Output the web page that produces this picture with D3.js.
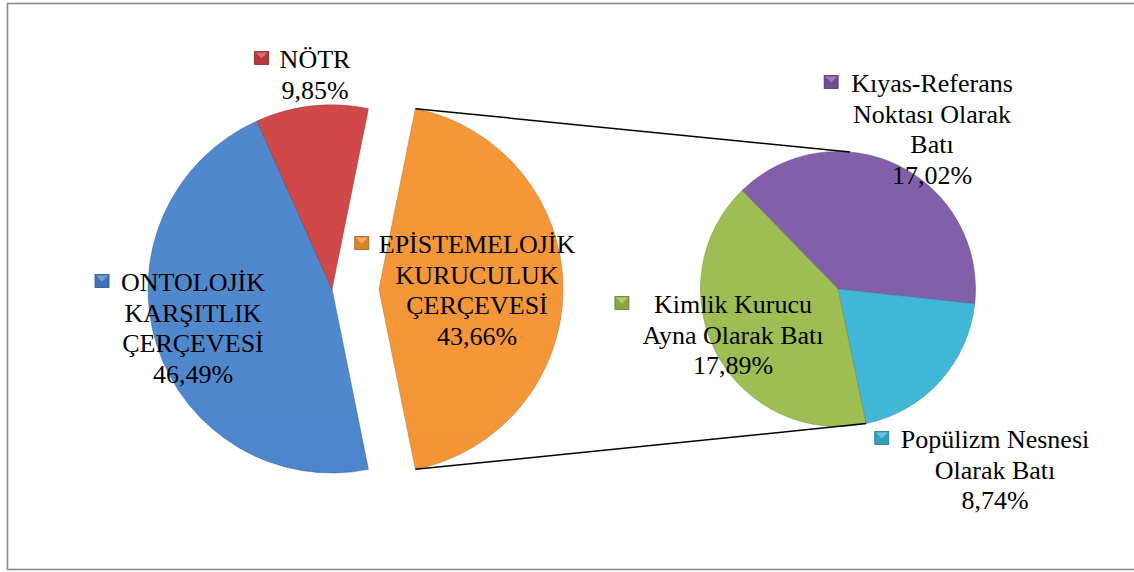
<!DOCTYPE html>
<html>
<head>
<meta charset="utf-8">
<script src="https://cdn.jsdelivr.net/npm/d3@7"></script>
<style>
    body { margin: 0; background: #fff; }
    svg text { font-family: "Liberation Serif", "DejaVu Serif", serif; font-size: 26px; fill: #000; }
</style>
</head>
<body>
<svg id="chart" width="1134" height="572"></svg>
<script>
// main pie: the "other" slice (EPİSTEMELOJİK) is split into the second pie
const mainNames = ["EPİSTEMELOJİK", "ONTOLOJİK", "NÖTR"];
const mainLines = [["EPİSTEMELOJİK", "KURUCULUK", "ÇERÇEVESİ"], ["ONTOLOJİK", "KARŞITLIK", "ÇERÇEVESİ"], ["NÖTR"]];
const mainValues = [43.66, 46.49, 9.85];
const mainColors = ["#f4902c", "#4580ca", "#cd3c3c"];

const subNames = ["Kıyas", "Popülizm", "Kimlik"];
const subLines = [["Kıyas-Referans", "Noktası Olarak", "Batı"], ["Popülizm Nesnesi", "Olarak Batı"], ["Kimlik Kurucu", "Ayna Olarak Batı"]];
const subValues = [17.02, 8.74, 17.89];
const subColors = ["#7a56a4", "#35b2d5", "#98b947"];

// label layout (centre x, first baseline, gap marker->text)
const mainLabelPos = [[477, 253, 10], [193, 291, 12], [315, 68, 11]];
const subLabelPos = [[932, 92, 13], [995, 448, 12], [733, 313, 25]];

const width = 1134, height = 572;
const svg = d3.select("#chart");
const defs = svg.append("defs");
const rad = Math.PI / 180;

const main = {cx: 332, cy: 289, r: 184, explode: 47};
const sub = {cx: 838, cy: 289, r: 137.5};

// outer frame
svg.append("rect")
    .attr("x", 7.5).attr("y", 3.5)
    .attr("width", width).attr("height", 566)
    .attr("fill", "#fff")
    .attr("stroke", "#8a8a8a")
    .attr("stroke-width", 1.6);

function shade(c, k) {
    return k > 0 ? d3.interpolateRgb(c, "#fff")(k) : d3.interpolateRgb(c, "#000")(-k);
}

function addGradient(id, color, cy, r) {
    const g = defs.append("linearGradient")
        .attr("id", id)
        .attr("gradientUnits", "userSpaceOnUse")
        .attr("x1", 0).attr("x2", 0)
        .attr("y1", cy - r).attr("y2", cy + r);
    g.append("stop").attr("offset", 0).attr("stop-color", shade(color, 0.06));
    g.append("stop").attr("offset", 0.55).attr("stop-color", color);
    g.append("stop").attr("offset", 1).attr("stop-color", shade(color, -0.14));
}

const fmt = v => d3.format(".2f")(v).replace(".", ",") + "%";

// main pie, "other" slice centred on 3 o'clock
const otherShare = mainValues[0] / d3.sum(mainValues);
const mainStart = Math.PI / 2 - Math.PI * otherShare;
const mainArcs = d3.pie().sort(null)
    .startAngle(mainStart).endAngle(mainStart + 2 * Math.PI)(mainValues);
const mainArc = d3.arc().innerRadius(0).outerRadius(main.r);

mainArcs.forEach((a, i) => {
    const dx = i === 0 ? main.explode : 0;
    addGradient("gm" + i, mainColors[i], main.cy, main.r);
    svg.append("path")
        .attr("transform", `translate(${main.cx + dx},${main.cy})`)
        .attr("d", mainArc(a))
        .attr("fill", `url(#gm${i})`)
        .attr("stroke", shade(mainColors[i], -0.25))
        .attr("stroke-opacity", 0.5)
        .attr("stroke-width", 1);
});

// second pie
const subStart = -44.2 * rad;
const subArcs = d3.pie().sort(null)
    .startAngle(subStart).endAngle(subStart + 2 * Math.PI)(subValues);
const subArc = d3.arc().innerRadius(0).outerRadius(sub.r);

subArcs.forEach((a, i) => {
    addGradient("gs" + i, subColors[i], sub.cy, sub.r);
    svg.append("path")
        .attr("transform", `translate(${sub.cx},${sub.cy})`)
        .attr("d", subArc(a))
        .attr("fill", `url(#gs${i})`)
        .attr("stroke", shade(subColors[i], -0.25))
        .attr("stroke-opacity", 0.5)
        .attr("stroke-width", 1);
});

// connector lines
const onCircle = (c, r, ang, dx = 0) => [c.cx + dx + r * Math.sin(ang), c.cy - r * Math.cos(ang)];
const oth = mainArcs[0];
const p1 = onCircle(main, main.r, oth.startAngle, main.explode);
const p2 = onCircle(main, main.r, oth.endAngle, main.explode);
const q1 = onCircle(sub, sub.r, 5 * rad);
const q2 = onCircle(sub, sub.r, subArcs[1].endAngle);
svg.append("line").attr("x1", p1[0]).attr("y1", p1[1]).attr("x2", q1[0]).attr("y2", q1[1])
    .attr("stroke", "#000").attr("stroke-width", 1.5);
svg.append("line").attr("x1", p2[0]).attr("y1", p2[1]).attr("x2", q2[0]).attr("y2", q2[1])
    .attr("stroke", "#000").attr("stroke-width", 1.5);

// labels with small bevelled legend keys
const lineH = 30.5;
function addLabel(lines, value, pos, color) {
    const g = svg.append("g");
    const all = lines.concat([fmt(value)]);
    let firstWidth = 0;
    all.forEach((t, k) => {
        const txt = g.append("text")
            .attr("x", pos[0])
            .attr("y", pos[1] + k * lineH)
            .attr("text-anchor", "middle")
            .attr("font-family", "'Liberation Serif', 'DejaVu Serif', serif")
            .attr("font-size", 26)
            .style("font-family", "'Liberation Serif', 'DejaVu Serif', serif")
            .text(t);
        if (k === 0) firstWidth = txt.node().getComputedTextLength();
    });
    const mx = pos[0] - firstWidth / 2 - pos[2] - 14;
    const my = pos[1] - 16.5;
    g.append("rect")
        .attr("x", mx).attr("y", my)
        .attr("width", 14).attr("height", 13)
        .attr("fill", shade(color, -0.1))
        .attr("stroke", shade(color, -0.35))
        .attr("stroke-width", 0.8);
    g.append("path")
        .attr("d", `M${mx + 1},${my + 1}L${mx + 13},${my + 1}L${mx + 7},${my + 7}Z`)
        .attr("fill", shade(color, 0.25));
}

mainLines.forEach((l, i) => addLabel(l, mainValues[i], mainLabelPos[i], mainColors[i]));
subLines.forEach((l, i) => addLabel(l, subValues[i], subLabelPos[i], subColors[i]));
</script>
</body>
</html>
